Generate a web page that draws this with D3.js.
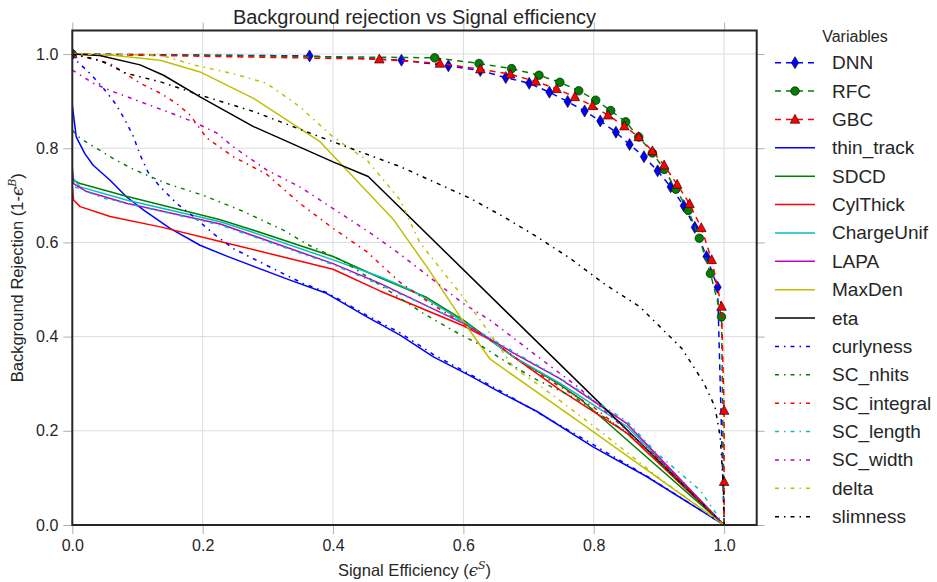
<!DOCTYPE html>
<html>
<head>
<meta charset="utf-8">
<script src="https://cdn.jsdelivr.net/npm/d3@7"></script>
<style>
  body { margin: 0; background: #fff; }
  text { font-family: Arial, "Liberation Sans", Helvetica, sans-serif; fill: #262626; }
</style>
</head>
<body>
<div id="roc"></div>
<script>
(function () {

  // ---- data (signal efficiency, background rejection) ----
  var xTicks = [0, 0.2, 0.4, 0.6, 0.8, 1.0];
  var yTicks = [0, 0.2, 0.4, 0.6, 0.8, 1.0];

  var dnn = [[0,1.0],[0.364,0.996],[0.505,0.987],[0.577,0.975],[0.626,0.965],[0.665,0.950],[0.701,0.938],
    [0.732,0.919],[0.760,0.899],[0.786,0.879],[0.810,0.858],[0.834,0.834],[0.855,0.808],[0.877,0.782],
    [0.898,0.752],[0.918,0.718],[0.938,0.678],[0.955,0.632],[0.973,0.570],[0.990,0.505],[1.0,0]];
  var rfc = [[0,1.0],[0.556,0.992],[0.624,0.980],[0.674,0.969],[0.716,0.955],[0.748,0.940],[0.777,0.922],
    [0.803,0.902],[0.826,0.880],[0.849,0.856],[0.869,0.824],[0.890,0.790],[0.908,0.755],[0.926,0.713],
    [0.945,0.668],[0.962,0.609],[0.979,0.534],[0.996,0.442],[1.0,0]];
  var gbc = [[0,1.0],[0.471,0.989],[0.564,0.980],[0.626,0.968],[0.672,0.957],[0.711,0.942],[0.743,0.926],
    [0.771,0.909],[0.798,0.890],[0.822,0.870],[0.847,0.847],[0.869,0.824],[0.890,0.794],[0.908,0.764],
    [0.928,0.723],[0.947,0.682],[0.965,0.631],[0.981,0.563],[0.996,0.464],[1.0,0.243],[1.0,0.092],[1.0,0]];

  var thinTrack = [[0,0.892],[0.006,0.824],[0.019,0.789],[0.032,0.764],[0.058,0.732],[0.083,0.697],
    [0.109,0.669],[0.15,0.63],[0.196,0.594],[0.237,0.571],[0.332,0.521],[0.39,0.492],[0.452,0.442],
    [0.503,0.403],[0.554,0.357],[0.61,0.317],[0.66,0.279],[0.713,0.241],[0.799,0.166],[0.881,0.103],[1,0]];
  var sdcd = [[0,0.745],[0.002,0.732],[0.012,0.725],[0.083,0.698],[0.227,0.648],[0.278,0.626],[0.4,0.570],
    [0.472,0.525],[0.544,0.483],[0.6,0.435],[0.677,0.357],[0.748,0.298],[0.779,0.268],[1,0]];
  var cylThick = [[0,0.72],[0.002,0.69],[0.012,0.676],[0.058,0.655],[0.135,0.633],[0.227,0.602],[0.4,0.543],
    [0.472,0.497],[0.6,0.423],[0.641,0.393],[0.748,0.287],[0.851,0.195],[1,0]];
  var chargeUnif = [[0,0.75],[0.002,0.735],[0.012,0.718],[0.083,0.690],[0.227,0.644],[0.278,0.621],
    [0.4,0.563],[0.472,0.527],[0.523,0.497],[0.6,0.432],[0.677,0.357],[0.748,0.301],[0.851,0.209],[1,0]];
  var lapa = [[0,0.76],[0.002,0.725],[0.022,0.708],[0.083,0.683],[0.227,0.639],[0.4,0.555],[0.472,0.513],
    [0.6,0.428],[0.677,0.365],[0.748,0.311],[0.851,0.215],[1,0]];
  var maxDen = [[0,1.0],[0.058,0.998],[0.135,0.987],[0.196,0.962],[0.278,0.906],[0.380,0.814],[0.493,0.648],
    [0.544,0.548],[0.6,0.432],[0.641,0.352],[0.779,0.218],[1,0]];
  var eta = [[0,1.0],[0.042,0.997],[0.104,0.977],[0.140,0.955],[0.196,0.909],[0.278,0.846],[0.4,0.771],
    [0.454,0.740],[1,0]];
  var curlyness = [[0,1.0],[0.004,0.989],[0.027,0.959],[0.048,0.927],[0.066,0.895],[0.081,0.860],[0.094,0.824],
    [0.104,0.786],[0.117,0.747],[0.135,0.718],[0.160,0.683],[0.186,0.655],[0.216,0.619],[0.247,0.587],
    [0.30,0.55],[0.354,0.513],[0.39,0.494],[0.452,0.445],[0.503,0.408],[0.554,0.362],[0.61,0.32],
    [0.66,0.282],[0.713,0.24],[0.8,0.17],[0.88,0.105],[1,0]];
  var scNhits = [[0,0.838],[0.012,0.821],[0.037,0.800],[0.063,0.778],[0.091,0.757],[0.119,0.740],
    [0.145,0.725],[0.176,0.711],[0.201,0.700],[0.257,0.669],[0.324,0.626],[0.36,0.596],[0.416,0.560],
    [0.488,0.495],[0.539,0.449],[0.592,0.407],[0.621,0.386],[0.667,0.345],[0.713,0.308],[0.774,0.268],
    [0.861,0.187],[1,0]];
  var scIntegral = [[0,1.0],[0.058,0.980],[0.104,0.938],[0.135,0.917],[0.160,0.895],[0.181,0.870],
    [0.206,0.822],[0.247,0.782],[0.298,0.745],[0.349,0.683],[0.4,0.630],[0.452,0.580],[0.503,0.515],
    [0.55,0.47],[0.6,0.428],[0.65,0.385],[0.7,0.335],[0.8,0.25],[0.9,0.14],[1,0]];
  var scLength = [[0,0.75],[0.004,0.718],[0.048,0.694],[0.083,0.683],[0.227,0.637],[0.4,0.553],[0.472,0.51],
    [0.6,0.43],[0.677,0.368],[0.748,0.312],[0.851,0.22],[0.897,0.152],[0.963,0.074],[1,0]];
  var scWidth = [[0,0.966],[0.032,0.938],[0.063,0.920],[0.104,0.899],[0.145,0.878],[0.186,0.856],
    [0.222,0.832],[0.247,0.803],[0.298,0.754],[0.349,0.718],[0.4,0.672],[0.452,0.625],[0.503,0.575],
    [0.554,0.52],[0.6,0.47],[0.641,0.435],[0.707,0.365],[0.774,0.295],[0.902,0.138],[1,0]];
  var delta = [[0,1.0],[0.135,0.998],[0.186,0.977],[0.222,0.966],[0.247,0.958],[0.298,0.938],[0.349,0.888],
    [0.4,0.824],[0.452,0.775],[0.503,0.690],[0.533,0.600],[0.554,0.563],[0.595,0.492],[0.626,0.435],
    [0.677,0.335],[0.728,0.285],[0.8,0.21],[0.9,0.1],[1,0]];
  var slimness = [[0,1.0],[0.042,0.987],[0.083,0.959],[0.135,0.941],[0.196,0.913],[0.278,0.878],
    [0.365,0.832],[0.421,0.803],[0.503,0.761],[0.61,0.694],[0.661,0.655],[0.713,0.612],[0.764,0.566],
    [0.815,0.513],[0.871,0.463],[0.935,0.375],[0.968,0.304],[0.986,0.251],[0.994,0.187],[0.999,0.081],[1,0]];

  var names = ["DNN","RFC","GBC","thin_track","SDCD","CylThick","ChargeUnif","LAPA","MaxDen","eta",
    "curlyness","SC_nhits","SC_integral","SC_length","SC_width","delta","slimness"];
  var curves = [dnn, rfc, gbc, thinTrack, sdcd, cylThick, chargeUnif, lapa, maxDen, eta,
    curlyness, scNhits, scIntegral, scLength, scWidth, delta, slimness];

  // style per series (matplotlib short colour codes)
  var colors = ["#0000ff","#008000","#ff0000","#0000ff","#008000","#ff0000","#00bfbf","#bf00bf","#bfbf00","#000000",
    "#0000ff","#008000","#ff0000","#00bfbf","#bf00bf","#bfbf00","#000000"];
  var kinds = ["dashed","dashed","dashed","solid","solid","solid","solid","solid","solid","solid",
    "dashdot","dashdot","dashdot","dashdot","dashdot","dashdot","dashdot"];
  var markers = ["diamond","circle","triangle",null,null,null,null,null,null,null,null,null,null,null,null,null,null];

  // Width and height
  var w = 937, h = 582;
  var plot = { left: 72.3, right: 756.7, top: 30.5, bottom: 525 };

  var x = d3.scaleLinear().domain([0, 1.05]).range([plot.left, plot.right]);
  var y = d3.scaleLinear().domain([0, 1.05]).range([plot.bottom, plot.top]);

  var svg = d3.select("#roc")
    .append("svg")
    .attr("width", w)
    .attr("height", h);

  svg.append("defs").append("clipPath")
    .attr("id", "clip")
    .append("rect")
    .attr("x", plot.left).attr("y", plot.top)
    .attr("width", plot.right - plot.left)
    .attr("height", plot.bottom - plot.top);

  // grid
  var grid = svg.append("g").attr("class", "grid");
  grid.selectAll(".vg").data(xTicks).enter().append("line")
    .attr("x1", function(d){ return x(d); }).attr("x2", function(d){ return x(d); })
    .attr("y1", plot.top).attr("y2", plot.bottom)
    .style("stroke", "#dcdcdc").style("stroke-width", 1);
  grid.selectAll(".hg").data(yTicks).enter().append("line")
    .attr("y1", function(d){ return y(d); }).attr("y2", function(d){ return y(d); })
    .attr("x1", plot.left).attr("x2", plot.right)
    .style("stroke", "#dcdcdc").style("stroke-width", 1);

  function dashFor(kind) {
    if (kind == "dashed") return "6,5";
    if (kind == "dashdot") return "4,5,1.5,5";
    return null;
  }
  function widthFor(kind) {
    return 1.5;
  }
  function markerPath(m) {
    if (m == "diamond") return "M0,-6L3.6,0L0,6L-3.6,0Z";
    if (m == "triangle") return "M0,-5.2L4.8,3.8L-4.8,3.8Z";
    return d3.symbol().type(d3.symbolCircle).size(58)();
  }

  var line = d3.line()
    .x(function(d){ return x(d[0]); })
    .y(function(d){ return y(d[1]); });

  var lines = svg.append("g").attr("clip-path", "url(#clip)");

  curves.forEach(function(data, i){
    lines.append("path")
      .attr("d", line(data))
      .style("fill", "none")
      .style("stroke", colors[i])
      .style("stroke-width", widthFor(kinds[i]))
      .style("stroke-dasharray", dashFor(kinds[i]))
      .style("stroke-linejoin", "round");

    if (markers[i]) {
      lines.selectAll(".m" + i)
        .data(data.slice(0, data.length - 1))
        .enter()
        .append("path")
        .attr("d", markerPath(markers[i]))
        .attr("transform", function(d){ return "translate(" + x(d[0]) + "," + y(d[1]) + ")"; })
        .style("fill", colors[i])
        .style("stroke", "#000")
        .style("stroke-width", 0.6);
    }
  });

  // axes (ticks outward, on all four sides)
  var tickCol = "#b0b0b0";
  var fmt = d3.format(".1f");

  var gx = svg.append("g").attr("transform", "translate(0," + plot.bottom + ")")
    .call(d3.axisBottom(x).tickValues(xTicks).tickFormat(fmt).tickSize(9).tickPadding(6));
  var gy = svg.append("g").attr("transform", "translate(" + plot.left + ",0)")
    .call(d3.axisLeft(y).tickValues(yTicks).tickFormat(fmt).tickSize(9).tickPadding(5));
  var gt = svg.append("g").attr("transform", "translate(0," + plot.top + ")")
    .call(d3.axisTop(x).tickValues(xTicks).tickFormat("").tickSize(8));
  var gr = svg.append("g").attr("transform", "translate(" + plot.right + ",0)")
    .call(d3.axisRight(y).tickValues(yTicks).tickFormat("").tickSize(8));

  [gx, gy, gt, gr].forEach(function(g){
    g.select(".domain").remove();
    g.selectAll("line").style("stroke", tickCol);
    g.selectAll("text").style("font-size", "16px").style("fill", "#262626")
      .style("font-family", "Arial, 'Liberation Sans', sans-serif");
  });

  // spines
  svg.append("rect")
    .attr("x", plot.left).attr("y", plot.top)
    .attr("width", plot.right - plot.left)
    .attr("height", plot.bottom - plot.top)
    .style("fill", "none")
    .style("stroke", "#262626")
    .style("stroke-width", 2);

  // title
  svg.append("text")
    .attr("x", (plot.left + plot.right) / 2)
    .attr("y", 24)
    .attr("text-anchor", "middle")
    .style("font-size", "20px")
    .text("Background rejection vs Signal efficiency");

  // x label
  var xl = svg.append("text")
    .attr("x", (plot.left + plot.right) / 2)
    .attr("y", 576)
    .attr("text-anchor", "middle")
    .style("font-size", "16.5px");
  xl.append("tspan").text("Signal Efficiency (");
  xl.append("tspan").style("font-style", "italic").style("font-family", "'DejaVu Serif', serif").text("\u03f5");
  xl.append("tspan").attr("dy", -7).style("font-size", "11px").style("font-style", "italic")
    .style("font-family", "'DejaVu Serif', serif").text("S");
  xl.append("tspan").attr("dy", 7).text(")");

  // y label
  var yl = svg.append("text")
    .attr("transform", "translate(23," + ((plot.top + plot.bottom) / 2) + ") rotate(-90)")
    .attr("text-anchor", "middle")
    .style("font-size", "16.5px");
  yl.append("tspan").text("Background Rejection (1-");
  yl.append("tspan").style("font-style", "italic").style("font-family", "'DejaVu Serif', serif").text("\u03f5");
  yl.append("tspan").attr("dy", -7).style("font-size", "11px").style("font-style", "italic")
    .style("font-family", "'DejaVu Serif', serif").text("B");
  yl.append("tspan").attr("dy", 7).text(")");

  // legend
  var legend = svg.append("g");
  legend.append("text")
    .attr("x", 855).attr("y", 42)
    .attr("text-anchor", "middle")
    .style("font-size", "16px")
    .text("Variables");

  var rowY = d3.scaleLinear().domain([0, names.length - 1]).range([62.7, 516.7]);

  names.forEach(function(name, i){
    var ly = rowY(i);
    legend.append("line")
      .attr("x1", 775).attr("x2", 815)
      .attr("y1", ly).attr("y2", ly)
      .style("stroke", colors[i])
      .style("stroke-width", widthFor(kinds[i]))
      .style("stroke-dasharray", dashFor(kinds[i]));
    if (markers[i]) {
      legend.append("path")
        .attr("d", markerPath(markers[i]))
        .attr("transform", "translate(795," + ly + ")")
        .style("fill", colors[i])
        .style("stroke", "#000")
        .style("stroke-width", 0.6);
    }
    legend.append("text")
      .attr("x", 832).attr("y", ly + 6.5)
      .style("font-size", "19px")
      .text(name);
  });

})();
</script>
</body>
</html>
